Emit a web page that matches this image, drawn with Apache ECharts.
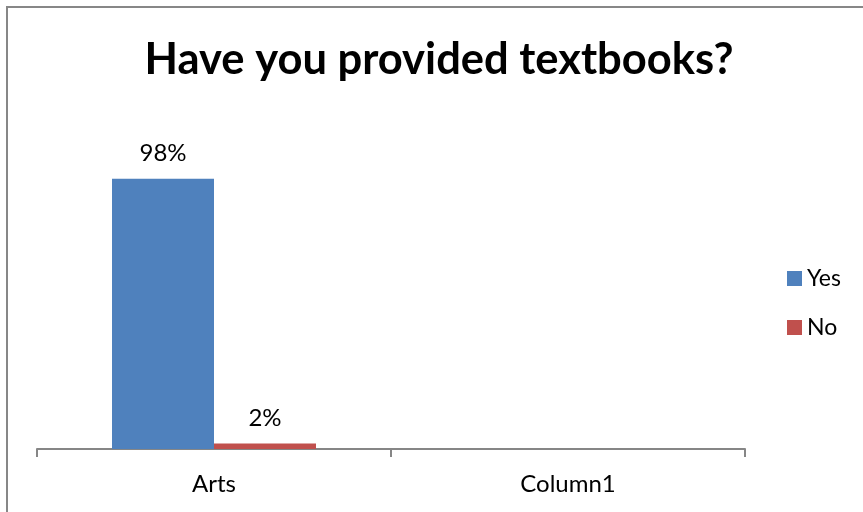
<!DOCTYPE html>
<html><head><meta charset="utf-8">
<script src="https://cdn.jsdelivr.net/npm/echarts@6/dist/echarts.min.js"></script>
<style>html,body{margin:0;padding:0;background:#fff}#c{width:863px;height:512px}</style>
</head><body><div id="c"></div>
<script>
const categories = ['Arts', 'Column1'];
const yesValues = [0.98, null];
const noValues = [0.02, null];
const seriesNames = ['Yes', 'No'];
const titleText = 'Have you provided textbooks?';

const chart = echarts.init(document.getElementById('c'));
const fontFam = 'Lato, "Open Sans", sans-serif';
const pct = p => Math.round(p.value * 100) + '%';
chart.setOption({
  animation: false,
  graphic: [{type:'rect', shape:{x:7, y:7, width:870, height:520}, style:{fill:'none', stroke:'#878787', lineWidth:2}, silent:true}],
  title: {text: titleText, left: 439, top: 38, textAlign: 'center', padding: 0,
    textStyle: {fontFamily: fontFam, fontWeight: 'bold', fontSize: 43.5, color: '#000'}},
  legend: {orient: 'vertical', left: 787, top: 267, padding: 0, itemWidth: 15, itemHeight: 15, itemGap: 26,
    icon: 'rect', textStyle: {fontFamily: fontFam, fontSize: 23, color: '#000'}, data: seriesNames},
  grid: {left: 37, right: 118, top: 118, bottom: 63},
  xAxis: {type: 'category', data: categories,
    axisLine: {lineStyle: {color: '#868686', width: 2}},
    axisTick: {show: true, length: 8, lineStyle: {color: '#868686', width: 2}},
    axisLabel: {fontFamily: fontFam, fontSize: 24, color: '#000', margin: 23}},
  yAxis: {type: 'value', min: 0, max: 1.2, show: false, splitLine: {show: false}},
  series: [
    {name: seriesNames[0], type: 'bar', data: yesValues, barWidth: 102, barGap: '0%',
     itemStyle: {color: '#4F81BD'},
     label: {show: true, position: 'top', distance: 13, formatter: pct, fontFamily: fontFam, fontSize: 24, color: '#000'}},
    {name: seriesNames[1], type: 'bar', data: noValues, barWidth: 102, barGap: '0%',
     itemStyle: {color: '#C0504D'},
     label: {show: true, position: 'top', distance: 13, formatter: pct, fontFamily: fontFam, fontSize: 24, color: '#000'}}
  ]
});
</script></body></html>
